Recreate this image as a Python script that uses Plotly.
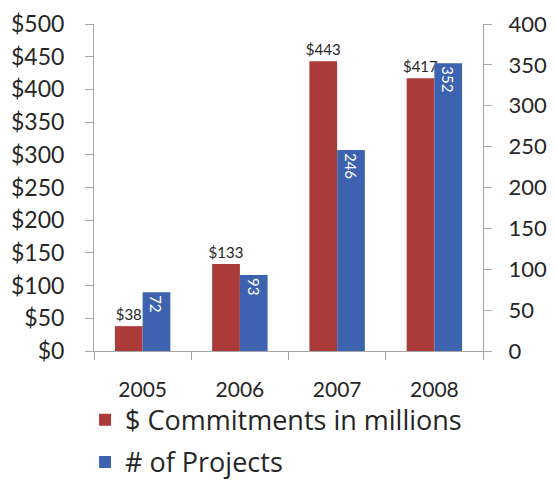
import plotly.graph_objects as go

years = ["2005", "2006", "2007", "2008"]
commitments = [38, 133, 443, 417]
projects = [72, 93, 246, 352]
commit_labels = ["$38", "$133", "$443", "$417"]
project_labels = ["72", "93", "246", "352"]

RED = "#AA3B38"
BLUE = "#3C62B0"
TXT = "#262626"
FONT = "Lato, Open Sans, sans-serif"
LFONT = "Open Sans, Lato, sans-serif"

fig = go.Figure()
fig.add_trace(go.Bar(
    x=years, y=commitments, name="$ Commitments in millions",
    marker=dict(color=RED, line=dict(width=0)),
    offsetgroup="a", yaxis="y", legendgroup="a",
    text=commit_labels, textposition="outside", cliponaxis=False,
    constraintext="none",
    textfont=dict(size=15, color=TXT),
))
fig.add_trace(go.Bar(
    x=years, y=projects, name="# of Projects",
    marker=dict(color=BLUE, line=dict(width=0)),
    offsetgroup="b", yaxis="y2", legendgroup="b",
    text=project_labels, textposition="inside", insidetextanchor="end",
    constraintext="none",
    textangle=90, textfont=dict(size=15, color="white"),
))

axis_common = dict(
    showgrid=False, showline=True, linecolor="#A6A6A6", linewidth=1,
    ticks="outside", tickcolor="#A6A6A6", ticklen=8,
    zeroline=False,
)

fig.update_layout(
    width=556, height=480,
    margin=dict(l=86, r=81, t=16, b=137, autoexpand=False),
    paper_bgcolor="white", plot_bgcolor="white",
    font=dict(family=FONT, color=TXT),
    barmode="group", bargap=0.43, bargroupgap=0,
    xaxis=dict(
        showgrid=False, showline=True, linecolor="#A6A6A6",
        ticks="outside", tickson="boundaries", tickcolor="#A6A6A6", ticklen=8,
        ticklabelstandoff=20,
        tickfont=dict(size=21, color=TXT, family=FONT),
    ),
    yaxis=dict(range=[0, 500], dtick=50, tickprefix="$", ticklabelstandoff=16,
               tickfont=dict(size=23, color=TXT, family=FONT), **axis_common),
    yaxis2=dict(range=[0, 400], dtick=50, overlaying="y", side="right",
                ticklabelstandoff=12,
                tickfont=dict(size=22, color=TXT, family=FONT), **axis_common),
    legend=dict(
        orientation="v", x=-0.023, y=-0.137, xanchor="left", yanchor="top",
        font=dict(size=27, color=TXT, family=LFONT),
        traceorder="grouped", tracegroupgap=4,
        bgcolor="rgba(0,0,0,0)",
    ),
)

fig.write_html("out.html")
